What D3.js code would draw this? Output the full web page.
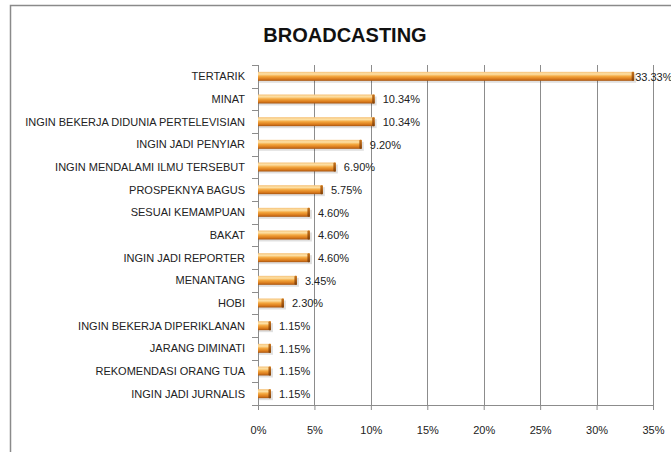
<!DOCTYPE html>
<meta charset="utf-8">
<body style="margin:0;background:#fff">
<script src="https://d3js.org/d3.v7.min.js"></script>
<style>
  body { font-family: "Liberation Sans", Arial, sans-serif; }
  .grid line { stroke: #8c8c8c; stroke-width: 1; }
  .axis path, .axis line { stroke: #8c8c8c; fill: none; }
  .axis text { fill: #222; font-size: 11px; }
  .val { fill: #222; font-size: 11px; }
</style>
<script>
// data
var categories = ["TERTARIK", "MINAT", "INGIN BEKERJA DIDUNIA PERTELEVISIAN", "INGIN JADI PENYIAR",
  "INGIN MENDALAMI ILMU TERSEBUT", "PROSPEKNYA BAGUS", "SESUAI KEMAMPUAN", "BAKAT",
  "INGIN JADI REPORTER", "MENANTANG", "HOBI", "INGIN BEKERJA DIPERIKLANAN",
  "JARANG DIMINATI", "REKOMENDASI ORANG TUA", "INGIN JADI JURNALIS"];
var values = [33.33, 10.34, 10.34, 9.20, 6.90, 5.75, 4.60, 4.60, 4.60, 3.45, 2.30, 1.15, 1.15, 1.15, 1.15];
var xTicks = [0, 5, 10, 15, 20, 25, 30, 35];
var title = "BROADCASTING";

var W = 671, H = 452;
var margin = {top: 65, left: 258, right: 18, bottom: 47};
var width = W - margin.left - margin.right,
    height = H - margin.top - margin.bottom;

var svg = d3.select("body").append("svg")
    .attr("width", W).attr("height", H);

// chart border (right and bottom fall outside the picture)
svg.append("rect")
    .attr("x", 10.5).attr("y", 5.5)
    .attr("width", 700).attr("height", 500)
    .attr("fill", "#fff").attr("stroke", "#8a8a8a").attr("stroke-width", 1.5);

svg.append("text")
    .attr("x", 345).attr("y", 42)
    .attr("text-anchor", "middle")
    .style("font-weight", "bold").style("font-size", "20px").style("fill", "#111")
    .text(title);

var defs = svg.append("defs");
var grad = defs.append("linearGradient").attr("id", "barGrad")
    .attr("x1", 0).attr("y1", 0).attr("x2", 0).attr("y2", 1);
[[0, "#f6c27a"], [0.25, "#fde1a6"], [0.5, "#f4a73e"], [0.8, "#d97a1c"], [1, "#a65410"]]
  .forEach(function(s) { grad.append("stop").attr("offset", s[0]).attr("stop-color", s[1]); });

var capGrad = defs.append("linearGradient").attr("id", "capGrad")
    .attr("x1", 0).attr("y1", 0).attr("x2", 0).attr("y2", 1);
[[0, "#c8741c"], [0.5, "#a85a12"], [1, "#7c400a"]]
  .forEach(function(s) { capGrad.append("stop").attr("offset", s[0]).attr("stop-color", s[1]); });

var g = svg.append("g").attr("transform", "translate(" + margin.left + "," + margin.top + ")");

var x = d3.scaleLinear().domain([0, 35]).range([0, width]);
var y = d3.scaleBand().domain(categories).range([0, height]);

// grid lines
g.append("g").attr("class", "grid")
  .selectAll("line").data(xTicks.slice(1)).enter().append("line")
    .attr("x1", function(d) { return Math.round(x(d)) + 0.5; })
    .attr("x2", function(d) { return Math.round(x(d)) + 0.5; })
    .attr("y1", 0).attr("y2", height);

// x axis
var xAxis = g.append("g").attr("class", "axis")
    .attr("transform", "translate(0," + height + ")")
    .call(d3.axisBottom(x).tickValues(xTicks).tickSize(5).tickSizeOuter(0)
      .tickFormat(function(d) { return d + "%"; }));
xAxis.selectAll("text").attr("dy", "1.9em");

// y axis, ticks at band boundaries
var yAxis = g.append("g").attr("class", "axis");
yAxis.append("line").attr("x1", 0.5).attr("x2", 0.5).attr("y1", 0).attr("y2", height);
yAxis.selectAll(".tk").data(d3.range(categories.length + 1)).enter().append("line")
    .attr("x1", -6).attr("x2", 0)
    .attr("y1", function(i) { return Math.round(i * y.step()) + 0.5; })
    .attr("y2", function(i) { return Math.round(i * y.step()) + 0.5; });
yAxis.selectAll(".lbl").data(categories).enter().append("text")
    .attr("x", -13)
    .attr("y", function(d) { return y(d) + y.bandwidth() / 2; })
    .attr("dy", "0.35em")
    .attr("text-anchor", "end")
    .text(function(d) { return d; });

// bars
var bh = 9;
var bars = g.selectAll(".bar").data(values).enter().append("g")
    .attr("transform", function(d, i) {
      return "translate(0," + (y(categories[i]) + y.bandwidth() / 2 - bh / 2) + ")";
    });
bars.append("rect")
    .attr("x", 1).attr("y", 2)
    .attr("width", function(d) { return x(d) + 1; })
    .attr("height", bh)
    .attr("fill", "#000").attr("opacity", 0.12);
bars.append("rect")
    .attr("x", 0).attr("y", 0)
    .attr("width", function(d) { return x(d); })
    .attr("height", bh)
    .attr("fill", "url(#barGrad)");
bars.append("rect")
    .attr("x", function(d) { return x(d) - 2.5; }).attr("y", 0)
    .attr("width", 2.5).attr("height", bh)
    .attr("rx", 1)
    .attr("fill", "url(#capGrad)");

// value labels
g.selectAll(".val").data(values).enter().append("text")
    .attr("class", "val")
    .attr("x", function(d) { return x(d) > width - 40 ? x(d) + 1 : x(d) + 8; })
    .attr("y", function(d, i) { return y(categories[i]) + y.bandwidth() / 2; })
    .attr("dy", "0.38em")
    .text(function(d) { return d.toFixed(2) + "%"; });
</script>
</body>
